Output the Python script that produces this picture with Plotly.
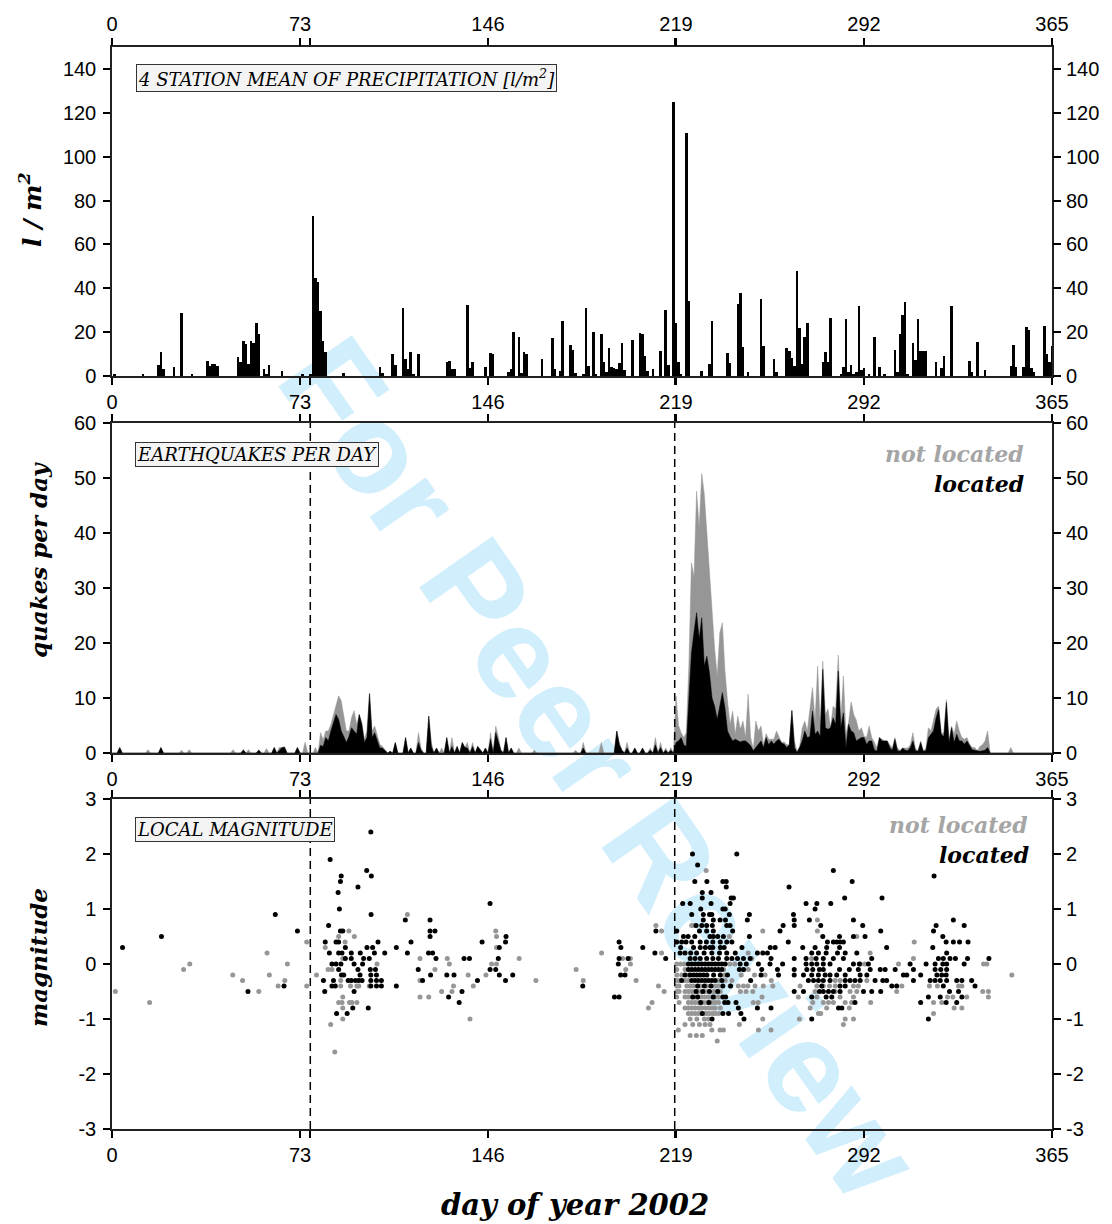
import plotly.graph_objects as go

# ---------------- data ----------------
# daily precipitation, 4-station mean (day of year, l/m^2)
precip = [(1,1),(12,1),(18,5),(19,11),(20,3),(24,4),(27,28.6),(31,1),(37,7),(38,4.5),(39,5.3),(40,5.3),(41,4.5),
          (49,8.6),(50,6.4),(51,16),(52,14.7),(53,5.5),(54,16),(55,15),(56,24),(57,19),(59,3),(60,1),(61,5),(66,2.5),
          (74,0.5),(77,1),(78,73),(79,44.7),(80,43),(81,29.6),(82,16),(83,11),(90,1.5),(104,4),(105,1.5),(109,10),
          (110,5),(113,31),(114,7.6),(115,3),(116,11),(117,1),(119,10),
          (130,6.3),(131,7),(132,3),(133,3),(138,32.4),(139,3.5),(140,6.4),(145,4),(147,10.4),(148,10),(154,2),
          (155,3.2),(156,20),(158,18),(159,1.5),(160,11),(161,10),(167,7.6),(171,17.3),(172,3),(174,2.5),(175,25),
          (178,14),(179,12),(180,1.4),(183,1),(184,31),(185,4.4),(187,20),(188,1),(190,19),(191,6.4),(192,1.7),
          (193,12.6),(194,4),(195,3.5),(196,3),(197,6),(198,15),(199,2.8),(202,16.5),(205,19.5),(206,19),(207,9),
          (208,2.2),(210,3),(213,11.3),(215,30),(216,5),(218,125),(219,24),(220,6.4),(221,1),(223,111),(224,34),
          (229,2.5),(232,5.4),(233,25),(239,10.5),(240,6),(243,33),(244,37.7),(245,13),(247,2),
          (252,35),(253,13.5),(257,7.6),(258,2),(262,12.6),(263,11.4),(264,8),(265,4.4),(266,48),(267,22),(268,5.6),
          (269,17.6),(270,24),(276,6.2),(277,10.8),(278,6.4),(279,26.3),(283,1),(284,4),(285,25.8),(286,2),(287,5),
          (288,1),(289,1.7),(290,32),(291,2.6),(292,3.5),(294,1),(296,18),(298,4),(300,1),(304,11.7),(305,2),
          (306,19.3),(307,28),(308,33.6),(309,1),(311,15),(312,7.3),(313,25.8),(314,11.4),(315,11.4),(316,11.4),
          (320,6.2),(322,3.5),(323,9),(326,31.8),(333,6.7),(334,1.7),(336,15.7),(339,2.6),(349,4.4),(350,14),
          (351,4),(354,4),(355,22.2),(356,20.8),(357,3.5),(358,2),(362,23),(363,10),(364,6.2),(365,13.5)]

# earthquakes per day: (day, all events, located events); days not listed had none
quakes = [(3,1,1),(14,0.6,0),(19,1,1),(27,0.5,0),(30,0.6,0),(47,0.6,0),(51,0.7,0.5),(53,0.6,0),(57,0.6,0.5),
          (60,0.8,0),(63,1,1),(65,1,0.5),(66,1,1),(67,1.2,1),(72,1,1),(75,2,0),(79,1,0),(81,3.7,1.4),(82,2.4,1.2),
          (83,4,2.8),(84,4,2.2),(85,5.2,4),(86,7,5.5),(87,8.8,7),(88,10.4,6.1),(89,9.5,4),(90,6.4,3),(91,4,1.9),
          (92,4,3),(93,6.4,4.6),(94,7.7,4),(95,5.2,3.4),(96,7,7),(97,5.5,5.2),(98,2.5,1.9),(99,4,2.8),
          (100,10.8,10.8),(101,4,2.8),(102,4.9,3.7),(103,3.1,2.2),(104,1.6,0.9),(105,1.2,0.9),(106,0.5,0.5),
          (108,0.3,0.3),(110,1.9,1.9),(114,2.8,2.8),(116,0.9,0.9),(119,3.7,1.9),(120,0.9,0.5),(123,6.7,6.7),
          (124,1.9,1.2),(126,0.9,0.9),(128,0.9,0),(130,2.8,2.8),(132,2.8,1.2),(134,1.2,1.2),(136,1.9,1.9),
          (137,1,1),(138,1.9,0.9),(140,1.9,1.2),(142,1.2,1.2),(143,0.5,0.5),(145,0.9,0.9),(147,3.7,2.5),
          (149,4.9,3.7),(150,3,1.9),(151,0.5,0.5),(153,2.8,2.8),(155,0.9,0.9),(158,0.9,0),(164,0.5,0),(180,0.5,0),
          (183,1.9,0.9),(190,1.9,0),(196,4,4),(197,1.9,1.5),(198,0.5,0.5),(200,1.9,0.9),(203,0.9,0.9),
          (206,0.9,0.9),(209,0.9,0.5),(211,2.8,1.5),(213,1.9,1),(215,0.9,0.5),(217,1,0.5),
          (219,10.4,1.9),(220,5,2.2),(221,3.7,2.8),(222,2.8,1.5),(223,3.7,1.2),(224,16,9.8),(225,34.6,18.2),
          (226,32,22),(227,47.6,25.5),(228,41,20.7),(229,50.8,24.6),(230,47,15.8),(231,40,17.6),(232,32,14.5),
          (233,25,10),(234,19,8.5),(235,14,6.1),(236,21.8,8.5),(237,23.7,11),(238,15,8.2),(239,9.5,4),
          (240,5.2,3),(241,7.6,2.2),(242,3.4,2.5),(243,6.7,2.2),(244,4.3,2),(245,5.8,2.2),(246,2.8,2.2),
          (247,10.7,1.8),(248,2.8,1.3),(249,0.7,0.4),(250,5.8,1),(251,4,1.5),(252,4.9,2.2),(253,1.5,1),
          (254,3.5,2.8),(255,2.5,1.5),(256,2.5,2.2),(257,2.5,1.6),(258,4,2.2),(259,3,2.5),(260,1.9,1.8),
          (261,2,1.6),(262,1.5,1),(263,1.5,1.5),(264,7.8,7.7),(265,2.2,1),(266,0.3,0.1),(267,1.2,1),
          (268,4.5,2.2),(269,5.8,4),(270,4,2.8),(271,8,3),(272,11.9,7.6),(273,5.8,3.4),(274,15.8,4),(275,5.2,3),
          (276,16.7,15.2),(277,7,4.6),(278,8,4.3),(279,4.6,4.6),(280,8.5,6.4),(281,8,5.2),(282,17.8,14.9),
          (283,6,4.6),(284,14,7.3),(285,3.4,1),(286,5.5,5.2),(287,9.3,4),(288,7,3.7),(289,6,2.2),(290,4,2.5),
          (291,4.6,2.8),(292,3.1,2.8),(293,2.8,1.6),(294,4.9,2.2),(295,2.8,2.2),(296,2,0.6),(297,0.9,0.3),
          (298,2.8,2.8),(299,2.5,2.2),(300,2.2,2.2),(301,2.2,2.2),(302,1.5,1),(303,0.9,0.5),(304,2.8,2.5),
          (305,0.9,0.4),(306,0.5,0.3),(307,0.9,0.9),(308,0.9,0.5),(309,0.9,0.4),(310,1.5,1),(311,3.7,2.2),
          (312,0.7,0.4),(313,0.5,0.3),(314,2.2,1.9),(315,0.5,0.3),(316,0.7,0.4),(317,4.6,2.8),(318,4,3.4),
          (319,5.8,4),(320,8,6.4),(321,8.5,7.9),(322,3.5,3.4),(323,3.7,3),(324,9.7,9.2),(325,2.2,1.9),
          (326,4.9,4.6),(327,3.4,1.9),(328,5.8,3.4),(329,4,2.2),(330,2.8,2.2),(331,2.5,1.6),(332,2.8,2.2),
          (333,1.6,1.3),(334,1,0.6),(335,1,0.5),(336,0.4,0.4),(337,1.2,0.3),(338,1.5,0.4),(339,2.2,0.5),
          (340,4,1),(349,1,0)]

# local magnitudes of located events: single points (day, ML) and rows (ML, [days])
located_pts = [(4.1,0.3),(19.2,0.5),(63.4,0.9),(72,0.6),(52.8,-0.5),(66.8,-0.4),(84.7,1.9),(100.5,2.4),(89,1.6),
               (88.7,1.5),(98.9,1.7),(100.7,1.6),(95.5,1.4),(87.8,1.3),(88.3,1.0),(100.6,0.9),(84.1,0.7),(88.7,0.6),
               (89.6,0.6),(113.9,0.8),(82.8,0.4),(87,0.4),(88,0.4),(90.6,0.3),(84.4,0.2),(88,0.2),(89.3,0.2),
               (92.9,0.2),(96.4,0.2),(101.9,0.2),(105.9,0.2),(99,0.3),(101.2,0.3),(103.3,0.4),(110.4,0.3),
               (114.7,0.2),(116.1,0.4),(90.6,0.1),(92.9,0.1),(97.7,0.1),(99.9,0.1),(85.4,0),(87,0),(88.9,0),(94,0),
               (97.3,0),(88,-0.1),(95.5,-0.1),(102.3,-0.1),(100.3,-0.1),(89.1,-0.2),(90,-0.2),(96.3,-0.2),
               (100.5,-0.2),(102.7,-0.2),(82.1,-0.3),(86,-0.3),(91.7,-0.3),(92.9,-0.3),(94.5,-0.3),(95.8,-0.3),
               (97.1,-0.3),(100.5,-0.3),(102.7,-0.3),(104.6,-0.3),(85.4,-0.4),(86.7,-0.4),(100.5,-0.4),
               (102.7,-0.4),(104.6,-0.4),(110.4,-0.4),(82.6,-0.5),(94,-0.5),(93.5,-0.8),(99.5,-0.8),(87.2,-0.9),
               (91.3,-0.9),
               (123.5,0.8),(123.5,0.6),(125.4,0.6),(123.5,0.5),(122.9,0.2),(124.5,0.2),(125.8,0.1),(118.9,-0.1),
               (120.6,-0.3),(123.7,-0.2),(130,-0.2),(132.8,-0.2),(135.9,-0.5),(130.7,-0.6),(134.8,-0.7),
               (136.7,0.1),(138.8,0.1),(141.9,-0.3),(143.7,0.4),(146.8,1.1),(146.8,-0.1),(149,-0.1),(150,0.1),
               (150.4,0.3),(152.8,0.4),(153,0.5),(150.4,-0.2),(152.8,-0.3),(155.6,-0.2),(182.8,-0.4),(196.9,0.4),
               (197.6,0.3),(196.9,0.1),(200.4,0.1),(196.6,0),(197.5,-0.2),(199.2,-0.2),(195.1,-0.6),(196.9,-0.6),
               (206.1,0.3),(210.8,0.2),(211.2,0.6),(215,0.1),
               (225.4,2.0),(242.6,2.0),(227.4,1.8),(226.3,1.5),(231,1.5),(237.2,1.5),(238.5,1.5),(238.5,1.4),
               (229.2,1.3),(232.6,1.3),(229.2,1.2),(240.4,1.2),(241.3,1.2),(262.9,1.4),(221.6,1.1),(224.5,1.1),
               (232.6,1.1),(240,1.1),(228.6,1.0),(237.2,1.0),(238.1,1.0),(225.1,0.9),(229.6,0.9),(232,0.9),
               (232.9,0.9),(239.7,0.9),(247.5,0.9),(229.6,0.8),(233.5,0.8),(236.1,0.8),(238.2,0.8),(246.7,0.8),
               (226.8,0.7),(229,0.7),(230.9,0.7),(233.1,0.7),(238.7,0.7),(240,0.7),(260.6,0.7),(219.3,0.6),
               (228.1,0.6),(230.9,0.6),(233.5,0.6),(241,0.6),(259.4,0.6),(221.9,0.5),(223.7,0.5),(226.3,0.5),
               (232.2,0.5),(233.5,0.5),(235.2,0.5),(237.4,0.5),(247.5,0.5),
               (280.1,1.7),(319.2,1.6),(287.4,1.5),(284.5,1.2),(299,1.2),(269.5,1.1),(273.7,1.1),(279.1,1.1),
               (273,1.0),(264.6,0.9),(264.9,0.8),(270.8,0.8),(287.9,0.8),(326.7,0.8),(264.9,0.7),(275.2,0.7),
               (291.5,0.7),(320,0.7),(330.9,0.7),(298.5,0.6),(319,0.6),(276,0.5),(282.5,0.5),(287.9,0.5),
               (292.4,0.5),(322.6,0.5)]

located_rows = [
    (0.4, [219.3,221.2,222.9,225.1,228.4,230.8,233.3,236.2,238.7,240.7,262.6,277.8,280.1,281.4,282.7,284,
           323.9,326.7,329.1,332.4]),
    (0.3, [220.8,225.8,228.4,230.4,232.2,233.3,236.2,237.7,244.6,255.6,257.5,268.2,273,277.5,282.5,300.8,318.7]),
    (0.2, [220.6,222.5,224.7,227,229.9,232.9,235.9,238.7,242,250.6,252.7,254.5,271.7,274.3,277.3,281.7,284.7,
           289.2,324.1]),
    (0.1, [224.5,226.4,228.4,230.9,233.3,235.5,238.7,240.7,242.9,245.2,247.8,255.9,264.9,269.5,273.4,276.2,
           280.1,284,295,320.9,322.8,325.4,327.5,332.2,340.5]),
    (0.0, [223.8,225.1,226.4,227.7,229,230.3,231.6,232.9,234.2,235.5,236.8,238.1,243.9,246.3,251,255.5,260.4,
           269.5,271.7,273.7,276.2,278.8,287.9,290.2,293.7,309.9,316.1,319.6,322.6,324.1,330.9]),
    (-0.1, [223.8,225.1,226.4,227.7,229,230.3,231.6,232.9,234.2,235.5,236.8,243.6,245.2,252.3,258.4,264.9,
            269.8,272.1,274.7,276.2,282.5,286.3,289.8,294.4,298.3,300.2,304.1,311.2,319.6,321.8,324.1]),
    (-0.2, [222.5,224.5,225.8,227.1,228.4,229.7,231,233.6,236.2,239,252,258.8,264.9,268.5,271.7,274.3,276.9,
            278.8,281.4,284.7,290.5,293.1,307.3,308.6,314,320.3,322.2,323.9]),
    (-0.3, [221.2,225.1,226.4,227.7,229,230.3,231.6,232.9,234.2,236.8,248,270.4,272.4,274.3,276.2,278.8,284.7,
            286.6,288.5,290.5,296.3,299.3,300.8,311.2,317.7,319.6,321.6,324.1,328,330,333.8]),
    (-0.4, [227.4,230,232.6,237.2,240.2,275.6,282.7,284.7,302.8,304.7,322.8,335.1]),
    (-0.5, [226.8,229.4,232,235.2,264.9,268.5,274.7,276.2,278.2,280.1,282.7,291.8,295,298.5,325.2,328.7]),
    (-0.6, [225.5,227.4,233.5,237.2,238.3,271.7,277.3,279.5,317,321.6,330]),
    (-0.7, [228.6,231.8,237.9,239.2,242.3,288.5,314,323.9,328]),
    (-0.8, [243.2,250.6,255.9,282.1,283.4]),
    (-0.9, [229.2,237.2,239.4,244.2]),
    (-1.0, [233,245.4,271.7,317]),
]

# local magnitudes of events that could not be located
unlocated_pts = [(1.3,-0.5),(14.6,-0.7),(27.8,-0.1),(30.2,0),(46.9,-0.2),(50.7,-0.3),(57,-0.5),(60.2,0.2),
                 (61.1,-0.2),(64.5,-0.4),(67.1,-0.3),(68.1,0),(75.6,0.4),(75.6,-0.4),(79.4,-0.2),(82.8,0.3),
                 (88,0.5),(90.5,0.4),(92,0.6),(94.1,0.5),(83.9,-0.1),(85.4,-0.1),(89.6,0.1),(102.9,0),(88.8,-0.3),
                 (88.8,-0.4),(92.6,-0.4),(95.1,-0.4),(95.8,-0.4),(99.9,-0.4),(89.6,-0.6),(88,-0.7),(89.3,-0.7),
                 (92.2,-0.7),(93.2,-0.7),(95.1,-0.7),(89.6,-0.8),(89.6,-1.0),(84.9,-1.1),(86.5,-1.6),(114.7,0.9),
                 (119.6,0.1),(125.4,-0.1),(119.6,-0.3),(119.6,-0.6),(123,-0.6),(130.2,0.1),(131,0),(132.6,-0.4),
                 (128,-0.5),(132,-0.5),(138.3,-0.2),(140.3,-0.4),(139,-1.0),(145.2,-0.2),(147.4,0),(149.3,0),
                 (149,0.6),(149.3,0.5),(149.3,0.3),(158.1,0.1),(164.6,-0.3),(180.2,-0.1),(183,-0.3),(190.1,0.2),
                 (198.3,0.1),(201.3,0.1),(201.3,0),(199.5,-0.1),(203.5,-0.3),(212.2,-0.4),(214.4,-0.5),
                 (209.7,-0.7),(208.3,-0.8),(211.2,0.7),(213.4,0.6),(213.4,0.2),
                 (230.7,1.7),(225.1,0.7),(226.2,0.7),(252.7,0.6),(239.7,0.5),(247,0.2),(248.4,0.1),
                 (273.9,0.8),(273.9,0.6),(289.2,0.5),(311.5,0.4),(294.4,0.2),(311.2,0.1),(271.7,0.1),(290.7,0),
                 (292.4,0),(305.4,0),(338.4,0),(339.7,0),(349.4,-0.2)]

unlocated_rows = [
    (0.0, [219.3,220.8,222.1,239.9,241.8]),
    (-0.1, [219.3,222.5,237.5,245.2,247.1]),
    (-0.2, [219.3,221.2,223.8,237.9,244.3,249.5,253.6]),
    (-0.3, [219.3,220.2,222.5,223.8,235.5,238.1,240.7,256,280.8,282.7,293.1]),
    (-0.4, [219.3,220.2,223.2,224.5,225.8,228.4,231,234.2,235.5,240,243.2,245.2,246.9,249.7,252.9,256.6,
            267.2,273.7,276.2,278.6,280.8,287.9,289.8,306.7,317.4,320.5,328.7,330]),
    (-0.5, [219.3,220.2,222.5,223.8,225.1,226.4,227.7,229,230.3,231.6,233.6,234.9,236.2,244,246.2,248.8,
            273,280.8,286.6,289.2,304.7,338.1,340.3]),
    (-0.6, [219.3,222.5,223.8,225.1,226.4,227.7,229,230.3,231.6,232.9,234.2,235.5,252.4,266.5,273.7,282.7,
            287.9,324.4,326.5,331.9,340.3]),
    (-0.7, [220.2,223.8,225.1,226.4,227.7,229.7,231,232.9,234.2,235.5,249,250.9,272.1,276.2,278.2,280.1,
            284.7,287.2,294.6,319,322.2]),
    (-0.8, [222.5,223.8,225.1,226.4,227.7,228.4,229,230.3,231.6,232.6,233.6,234.2,236.2,271.1,277.5,286.3,
            327,330]),
    (-0.9, [223.8,225.1,226.4,227.7,229,230.3,231,232,233.3,234.2,235.5,274.3,275.2,319]),
    (-1.0, [224.5,227.1,230,231.6,252.7,266.9,284.7,287.9]),
    (-1.1, [222.5,225.5,228.1,230.3,232.2,243.6,284]),
    (-1.2, [219.9,232.9,236.1,237.4,251,255.9]),
    (-1.3, [224.5,226.9,229.2]),
    (-1.4, [235]),
]

event_days = [77, 218.5]          # dashed markers (also marked by minor ticks)
x_tickvals = [0, 73, 146, 219, 292, 365]
precip_ticks = [0, 20, 40, 60, 80, 100, 120, 140]
quake_ticks = [0, 10, 20, 30, 40, 50, 60]
mag_ticks = [-3, -2, -1, 0, 1, 2, 3]
mag_ticktext = ["-3", "-2", "-1", "0", "1", "2", "3"]

# ---------------- figure ----------------
GRAY = "rgb(150,150,150)"
GRAYTXT = "rgb(165,165,165)"
SERIF = "DejaVu Serif"
SANS = "Liberation Sans, Arial, sans-serif"

p_day = [d for d, v in precip]
p_val = [v for d, v in precip]

all_days = list(range(366))
q_total = [0.0] * 366
q_loc = [0.0] * 366
for d, t, l in quakes:
    q_total[d] = t
    q_loc[d] = l

loc_x = [d for d, m in located_pts]
loc_y = [m for d, m in located_pts]
for m, ds in located_rows:
    loc_x += ds
    loc_y += [m] * len(ds)
unl_x = [d for d, m in unlocated_pts]
unl_y = [m for d, m in unlocated_pts]
for m, ds in unlocated_rows:
    unl_x += ds
    unl_y += [m] * len(ds)

fig = go.Figure()

fig.add_trace(go.Bar(x=p_day, y=p_val, width=1, marker=dict(color="black", line=dict(width=0)),
                     xaxis="x", yaxis="y", showlegend=False))

fig.add_trace(go.Scatter(x=all_days, y=q_total, mode="lines", fill="tozeroy", fillcolor=GRAY,
                         line=dict(color=GRAY, width=0.5), xaxis="x2", yaxis="y2", showlegend=False))
fig.add_trace(go.Scatter(x=all_days, y=q_loc, mode="lines", fill="tozeroy", fillcolor="black",
                         line=dict(color="black", width=0.5), xaxis="x2", yaxis="y2", showlegend=False))

fig.add_trace(go.Scatter(x=unl_x, y=unl_y, mode="markers", marker=dict(size=5, color=GRAY, line=dict(width=0)),
                         xaxis="x3", yaxis="y3", showlegend=False))
fig.add_trace(go.Scatter(x=loc_x, y=loc_y, mode="markers", marker=dict(size=5, color="black", line=dict(width=0)),
                         xaxis="x3", yaxis="y3", showlegend=False))

# invisible anchors for the mirrored label axes
for xa, ya in [("x4", "y"), ("x", "y4"), ("x2", "y5"), ("x3", "y6")]:
    fig.add_trace(go.Scatter(x=[0], y=[0], mode="markers", marker=dict(opacity=0), xaxis=xa, yaxis=ya,
                             showlegend=False, hoverinfo="skip"))

tickfont = dict(family=SANS, size=20, color="black")
minor_x = dict(tickmode="array", tickvals=event_days, ticks="outside", ticklen=7, tickwidth=1.5,
               tickcolor="black", showgrid=False)
common_x = dict(range=[0, 365], tickvals=x_tickvals, tickangle=0, ticks="outside", ticklen=7,
                tickwidth=1.5, tickcolor="black", showline=True, linewidth=1.5, linecolor="#222",
                mirror="ticks", showgrid=False, zeroline=False, tickfont=tickfont, minor=minor_x)
common_y = dict(ticks="outside", ticklen=7, tickwidth=1.5, tickcolor="black", showline=True, linewidth=1.5,
                linecolor="#222", mirror="ticks", showgrid=False, zeroline=False, tickfont=tickfont,
                ticklabelstandoff=3)
over_y = dict(ticks="outside", ticklen=7, tickwidth=1.5, tickcolor="black", showline=False, showgrid=False,
              zeroline=False, tickfont=tickfont, side="right", ticklabelstandoff=2)

H = 1082.0
top_dom = [(1129 - 376) / H, 1.0]
mid_dom = [(1129 - 753) / H, (1129 - 423) / H]
bot_dom = [0.0, (1129 - 799) / H]

fig.update_layout(
    width=1112, height=1224,
    margin=dict(l=112, r=60, t=47, b=95),
    paper_bgcolor="white", plot_bgcolor="rgba(0,0,0,0)",
    bargap=0,
    xaxis=dict(anchor="y", domain=[0, 1], **common_x),
    xaxis2=dict(anchor="y2", domain=[0, 1], **common_x),
    xaxis3=dict(anchor="y3", domain=[0, 1], **common_x),
    xaxis4=dict(overlaying="x", anchor="y", side="top", range=[0, 365], tickvals=x_tickvals, tickangle=0,
                ticks="outside", ticklen=7, tickwidth=1.5, tickcolor="black", showline=False,
                showgrid=False, zeroline=False, tickfont=tickfont),
    yaxis=dict(anchor="x", domain=top_dom, range=[0, 150], tickvals=precip_ticks, **common_y),
    yaxis2=dict(anchor="x2", domain=mid_dom, range=[0, 60], tickvals=quake_ticks, **common_y),
    yaxis3=dict(anchor="x3", domain=bot_dom, range=[-3, 3], tickvals=mag_ticks, ticktext=mag_ticktext,
                **common_y),
    yaxis4=dict(overlaying="y", anchor="x", range=[0, 150], tickvals=precip_ticks, **over_y),
    yaxis5=dict(overlaying="y2", anchor="x2", range=[0, 60], tickvals=quake_ticks, **over_y),
    yaxis6=dict(overlaying="y3", anchor="x3", range=[-3, 3], tickvals=mag_ticks, ticktext=mag_ticktext,
                **over_y),
)

shapes = []
for ev in event_days:
    for xa, ya in [("x2", "y2 domain"), ("x3", "y3 domain")]:
        shapes.append(dict(type="line", xref=xa, yref=ya, x0=ev, x1=ev, y0=0, y1=1,
                           line=dict(color="black", width=1.5, dash="8px,5px"), layer="above"))
# watermark
shapes.append(dict(type="rect", xref="paper", yref="paper", x0=0.47, x1=0.59, y0=0.31, y1=0.37,
                   line=dict(width=0), fillcolor="rgba(0,0,0,0)", layer="below",
                   label=dict(text="<b>For Peer Review</b>", textangle=55, textposition="middle center",
                              font=dict(family="Liberation Sans, Arial", size=130, color="rgb(208,238,252)"))))
fig.update_layout(shapes=shapes)

box = dict(bordercolor="#333", borderwidth=1, bgcolor="#f4f4f4", borderpad=1, showarrow=False,
           xanchor="left", yanchor="top", font=dict(family=SERIF, size=18, color="black"))
ann = [
    dict(text="<i>4 STATION MEAN OF PRECIPITATION [l/m<sup>2</sup>]</i>", xref="x domain", yref="y domain",
         x=0.026, y=0.948, **box),
    dict(text="<i>EARTHQUAKES PER DAY</i>", xref="x2 domain", yref="y2 domain", x=0.024, y=0.942, **box),
    dict(text="<i>LOCAL MAGNITUDE</i>", xref="x3 domain", yref="y3 domain", x=0.024, y=0.945, **box),
]
leg = dict(showarrow=False, xanchor="right", yanchor="middle")
ann += [
    dict(text="<b><i>not located</i></b>", xref="x2 domain", yref="y2 domain", x=0.972, y=0.906,
         font=dict(family=SERIF, size=22, color=GRAYTXT), **leg),
    dict(text="<b><i>located</i></b>", xref="x2 domain", yref="y2 domain", x=0.972, y=0.815,
         font=dict(family=SERIF, size=22, color="black"), **leg),
    dict(text="<b><i>not located</i></b>", xref="x3 domain", yref="y3 domain", x=0.977, y=0.921,
         font=dict(family=SERIF, size=22, color=GRAYTXT), **leg),
    dict(text="<b><i>located</i></b>", xref="x3 domain", yref="y3 domain", x=0.978, y=0.830,
         font=dict(family=SERIF, size=22, color="black"), **leg),
]
title_font = dict(family=SERIF, size=23, color="black")
ann += [
    dict(text="<b><i>l / m<sup>2</sup></i></b>", xref="paper", yref="paper", x=(30 - 112) / 940.0,
         y=(1129 - 210) / H, textangle=-90, showarrow=False, xanchor="center", yanchor="middle",
         font=dict(family=SERIF, size=25, color="black")),
    dict(text="<b><i>quakes per day</i></b>", xref="paper", yref="paper", x=(38 - 112) / 940.0,
         y=(1129 - 560) / H, textangle=-90, showarrow=False, xanchor="center", yanchor="middle", font=title_font),
    dict(text="<b><i>magnitude</i></b>", xref="paper", yref="paper", x=(38 - 112) / 940.0,
         y=(1129 - 958) / H, textangle=-90, showarrow=False, xanchor="center", yanchor="middle", font=title_font),
    dict(text="<b><i>day of year 2002</i></b>", xref="paper", yref="paper", x=(575 - 112) / 940.0,
         y=(1129 - 1205) / H, showarrow=False, xanchor="center", yanchor="middle",
         font=dict(family=SERIF, size=29, color="black")),
]
fig.update_layout(annotations=ann)

fig.write_html("out.html")
